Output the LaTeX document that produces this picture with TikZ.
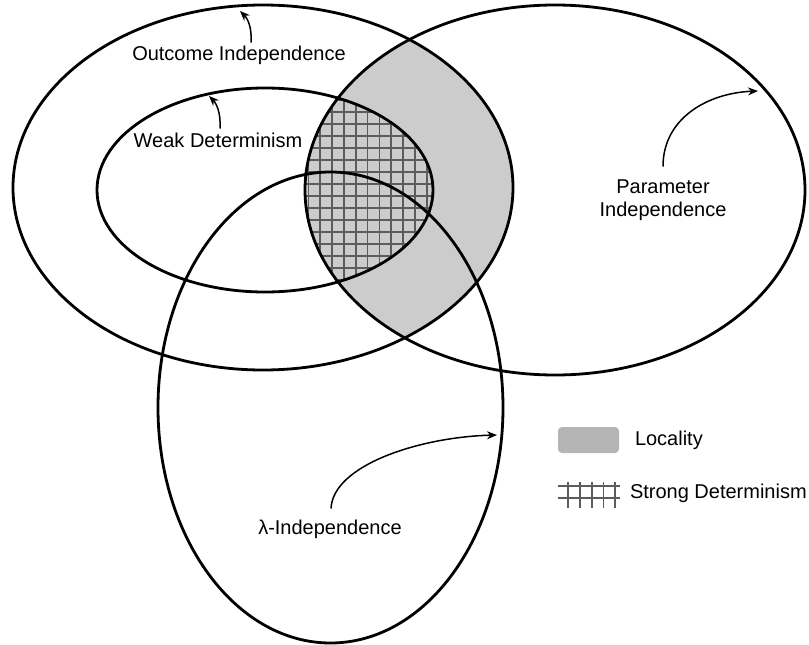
\documentclass[tikz,border=0pt]{standalone}
\usepackage{fontspec}
\setmainfont{Liberation Sans}
\usetikzlibrary{arrows.meta}
\definecolor{locfill}{HTML}{CCCCCC}
\definecolor{lockey}{HTML}{B5B5B5}
\definecolor{gridcol}{HTML}{5C5C5C}
\tikzset{
  setline/.style={line width=2.8pt, draw=black},
  gridline/.style={line width=1.6pt, draw=gridcol},
  lbl/.style={inner sep=0pt, outer sep=2pt, font=\fontsize{20}{23}\selectfont, text=black},
  arr/.style={line width=1.5pt, -{Stealth[length=10pt,width=8pt]}},
  keybox/.style={fill=lockey, draw=none, rounded corners=4pt, minimum width=61pt, minimum height=26pt, inner sep=0pt}
}
\begin{document}
\begin{tikzpicture}[x=1pt,y=-1pt]
\useasboundingbox (0,0) rectangle (809,645);
% Locality: outcome ∩ parameter
\begin{scope}
  \clip (263,187.5) ellipse [x radius=250pt, y radius=182.5pt];
  \fill[locfill] (555,190) ellipse [x radius=250pt, y radius=185pt];
\end{scope}
% Strong determinism: weak ∩ parameter
\begin{scope}
  \clip (265,190) ellipse [x radius=168pt, y radius=102pt];
  \clip (555,190) ellipse [x radius=250pt, y radius=185pt];
  \foreach \k in {0,...,11} {
    \draw[gridline] ({308.3+11.85*\k},80) -- ({308.3+11.85*\k},300);
  }
  \foreach \k in {-1,...,16} {
    \draw[gridline] (300,{100+12*\k}) -- (440,{100+12*\k});
  }
\end{scope}
% ellipse outlines
\draw[setline] (263,187.5) ellipse [x radius=250pt, y radius=182.5pt];
\draw[setline] (265,190) ellipse [x radius=168pt, y radius=102pt];
\draw[setline] (555,190) ellipse [x radius=250pt, y radius=185pt];
\draw[setline] (330.5,407.5) ellipse [x radius=172.5pt, y radius=235.5pt];
% arrow targets on the ellipses
\coordinate (oitip) at (240,11);
\coordinate (wdtip) at (209,96);
\coordinate (pitip) at (758,91);
\coordinate (litip) at (497,435);
% labels
\node[lbl, anchor=base] (oi) at (239,60) {Outcome Independence};
\node[lbl, anchor=base] (wd) at (218,147) {Weak Determinism};
\node[lbl, anchor=north, align=center] (pi) at (663,177.5) {Parameter\\Independence};
\node[lbl, anchor=base] (li) at (330,534) {λ-Independence};
% arrows
\draw[arr] ([xshift=12pt,yshift=1pt]oi.north) .. controls (252,28) and (248,19) .. (oitip);
\draw[arr] ([xshift=2pt,yshift=2pt]wd.north) .. controls (221,112) and (216,103) .. (wdtip);
\draw[arr] ([yshift=11pt]pi.north) .. controls (663,118) and (708,93) .. (pitip);
\draw[arr] ([xshift=1pt,yshift=9pt]li.north) .. controls (333,465) and (420,437) .. (litip);
% legend
\node[keybox] (lockeybox) at (588.5,440) {};
\node[lbl, anchor=base west] (loclbl) at (633,445) {Locality};
\draw[gridline] (558,486) -- (620,486);
\draw[gridline] (558,498) -- (620,498);
\foreach \xx in {568,580,592,603.5,615} {
  \draw[gridline] (\xx,482) -- (\xx,508);
}
\node[lbl, anchor=base west] (sdlbl) at (628,498) {Strong Determinism};
\end{tikzpicture}
\end{document}
